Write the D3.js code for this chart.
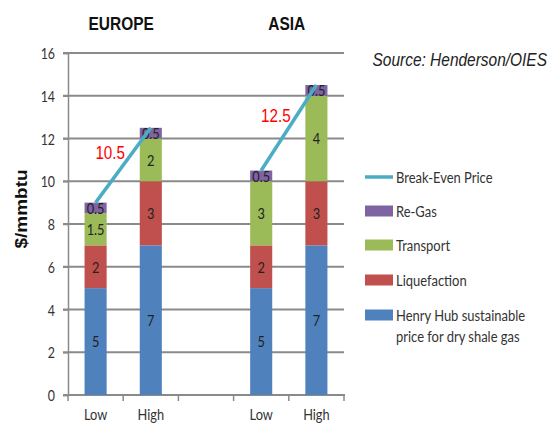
<!DOCTYPE html>
<html>
<head>
<meta charset="utf-8">
<script src="https://cdn.jsdelivr.net/npm/d3@7/dist/d3.min.js"></script>
<style>
  html, body { margin: 0; padding: 0; background: #fff; }
  svg { display: block; }
</style>
</head>
<body>
<svg id="chart" width="550" height="424"></svg>
<script>
// Cost build-up of US LNG delivered to Europe and Asia ($/mmbtu)
const categories = ["Low", "High", "", "Low ", "High "];
const regionOf   = ["EUROPE", "EUROPE", null, "ASIA", "ASIA"];
const henryHub     = [5, 7, 0, 5, 7];
const liquefaction = [2, 3, 0, 2, 3];
const transport    = [1.5, 2, 0, 3, 4];
const reGas        = [0.5, 0.5, 0, 0.5, 0.5];
const seriesNames  = ["Henry Hub sustainable price for dry shale gas", "Liquefaction", "Transport", "Re-Gas"];
const seriesColors = ["#4F81BD", "#C0504D", "#9BBB59", "#8064A2"];
const lineColor = "#4BACC6";
const yTicks = [0, 2, 4, 6, 8, 10, 12, 14, 16];
const regionTitles = ["EUROPE", "ASIA"];
const spreadLabels = [{ region: "EUROPE", text: "10.5" }, { region: "ASIA", text: "12.5" }];

const body = "Lato, 'Open Sans', sans-serif";
const arial = "'Liberation Sans', Arial, sans-serif";

// narrow the glyphs horizontally around each text's anchor point
function squeeze(sel, k) {
  sel.each(function () {
    const t = d3.select(this);
    const x = +t.attr("x") || 0, y = +t.attr("y") || 0;
    t.attr("transform", `translate(${x},${y}) scale(${k},1) translate(${-x},${-y})`);
  });
}

const svg = d3.select("#chart");
const plot = { left: 68, right: 344, top: 53, bottom: 395 };

const x = d3.scaleBand().domain(categories).range([plot.left, plot.right])
  .paddingInner(0.6).paddingOuter(0.3);
const slot = d3.scaleBand().domain(categories).range([plot.left, plot.right]);
const y = d3.scaleLinear().domain([0, 16]).range([plot.bottom, plot.top]);

const rows = categories.map((c, i) => ({
  cat: c, region: regionOf[i],
  s0: henryHub[i], s1: liquefaction[i], s2: transport[i], s3: reGas[i]
}));
const keys = ["s0", "s1", "s2", "s3"];
const stacked = d3.stack().keys(keys)(rows);

// horizontal gridlines
svg.append("g").selectAll("line").data(yTicks).join("line")
  .attr("x1", plot.left - 5).attr("x2", plot.right)
  .attr("y1", d => y(d)).attr("y2", d => y(d))
  .attr("stroke", "#8a8a8a").attr("stroke-width", 2);

// y axis
const yAxis = d3.axisLeft(y).tickValues(yTicks).tickSize(5).tickPadding(8);
const gy = svg.append("g").attr("transform", `translate(${plot.left},0)`).call(yAxis);
gy.select(".domain").attr("stroke", "#8a8a8a").attr("stroke-width", 1.5);
gy.selectAll(".tick line").attr("stroke", "#8a8a8a").attr("stroke-width", 1.5);
gy.selectAll("text").attr("font-family", body).attr("font-size", 15.5).attr("fill", "#333")
  .attr("dy", "0.36em").call(squeeze, 0.8);

// x axis with ticks at slot boundaries
const gx = svg.append("g").attr("transform", `translate(0,${plot.bottom})`);
gx.append("line").attr("x1", plot.left - 5).attr("x2", plot.right + 1)
  .attr("stroke", "#8a8a8a").attr("stroke-width", 2);
const bounds = categories.map(c => slot(c)).concat([slot(categories[categories.length - 1]) + slot.bandwidth()]);
gx.selectAll("line.tk").data(bounds).join("line").attr("class", "tk")
  .attr("x1", d => d).attr("x2", d => d).attr("y1", 0).attr("y2", 6)
  .attr("stroke", "#8a8a8a").attr("stroke-width", 1.5);
gx.selectAll("text").data(categories.filter(c => c.trim() !== "")).join("text")
  .attr("x", d => x(d) + x.bandwidth() / 2).attr("y", 25.5)
  .attr("text-anchor", "middle").attr("font-family", body).attr("font-size", 16)
  .attr("fill", "#333").text(d => d.trim()).call(squeeze, 0.8);

// stacked bars
const layers = svg.append("g").selectAll("g").data(stacked).join("g")
  .attr("fill", (d, i) => seriesColors[i]);
layers.selectAll("rect").data(d => d.filter(p => p[1] > p[0])).join("rect")
  .attr("x", d => x(d.data.cat)).attr("width", x.bandwidth())
  .attr("y", d => y(d[1])).attr("height", d => y(d[0]) - y(d[1]));

// segment value labels
const segLabels = svg.append("g");
stacked.forEach(layer => {
  layer.filter(p => p[1] > p[0]).forEach(p => {
    segLabels.append("text")
      .attr("x", x(p.data.cat) + x.bandwidth() / 2)
      .attr("y", y((p[0] + p[1]) / 2))
      .attr("dy", "0.36em")
      .attr("text-anchor", "middle")
      .attr("font-family", body).attr("font-size", 16).attr("fill", "#222")
      .text(p[1] - p[0]);
  });
});
segLabels.selectAll("text").call(squeeze, 0.8);

// break-even price lines per region
const totals = rows.map(r => r.s0 + r.s1 + r.s2 + r.s3);
const line = d3.line().x(d => x(d.cat) + x.bandwidth() / 2).y(d => y(d.total));
regionTitles.forEach(reg => {
  const pts = rows.map((r, i) => ({ cat: r.cat, total: totals[i], region: r.region }))
    .filter(p => p.region === reg);
  svg.append("path").datum(pts).attr("d", line)
    .attr("fill", "none").attr("stroke", lineColor).attr("stroke-width", 3.5);
  // region title centred over its pair of bars
  const cx = d3.mean(pts, p => x(p.cat) + x.bandwidth() / 2);
  svg.append("text").attr("x", cx - 2).attr("y", 30).attr("text-anchor", "middle")
    .attr("font-family", arial).attr("font-weight", "bold").attr("font-size", 18)
    .attr("fill", "#111").text(reg).call(squeeze, 0.86);
  // spread annotation left of the line midpoint
  const lab = spreadLabels.find(s => s.region === reg);
  const my = d3.mean(pts, p => y(p.total));
  svg.append("text").attr("x", cx - 13).attr("y", my - 6).attr("text-anchor", "middle")
    .attr("font-family", arial).attr("font-size", 19).attr("fill", "#FF0000")
    .text(lab.text).call(squeeze, 0.8);
});

// y axis title
svg.append("text").attr("transform", "translate(27,209) rotate(-90) scale(1,0.85)")
  .attr("text-anchor", "middle").attr("font-family", arial).attr("font-weight", "bold")
  .attr("font-size", 19).attr("fill", "#111").text("$/mmbtu");

// source note
svg.append("text").attr("x", 547).attr("y", 66).attr("text-anchor", "end")
  .attr("font-family", arial).attr("font-style", "italic").attr("font-size", 18)
  .attr("fill", "#222").text("Source: Henderson/OIES").call(squeeze, 0.86);

// legend
const legend = [
  { name: "Break-Even Price", color: lineColor, type: "line", y: 177 },
  { name: "Re-Gas", color: seriesColors[3], type: "rect", y: 211 },
  { name: "Transport", color: seriesColors[2], type: "rect", y: 245 },
  { name: "Liquefaction", color: seriesColors[1], type: "rect", y: 280 },
  { name: seriesNames[0], color: seriesColors[0], type: "rect", y: 315 }
];
const lg = svg.append("g");
legend.forEach(item => {
  if (item.type === "line") {
    lg.append("line").attr("x1", 365).attr("x2", 393).attr("y1", item.y).attr("y2", item.y)
      .attr("stroke", item.color).attr("stroke-width", 3.5);
  } else {
    lg.append("rect").attr("x", 365).attr("y", item.y - 5.5).attr("width", 28).attr("height", 11)
      .attr("fill", item.color);
  }
  const words = item.name === seriesNames[0]
    ? ["Henry Hub sustainable", "price for dry shale gas"] : [item.name];
  const t = lg.append("text").attr("x", 396).attr("y", item.y)
    .attr("font-family", body).attr("font-size", 16).attr("fill", "#333");
  words.forEach((w, i) => t.append("tspan").attr("x", 396).attr("dy", i === 0 ? "0.36em" : 21).text(w));
  t.call(squeeze, 0.81);
});
</script>
</body>
</html>
